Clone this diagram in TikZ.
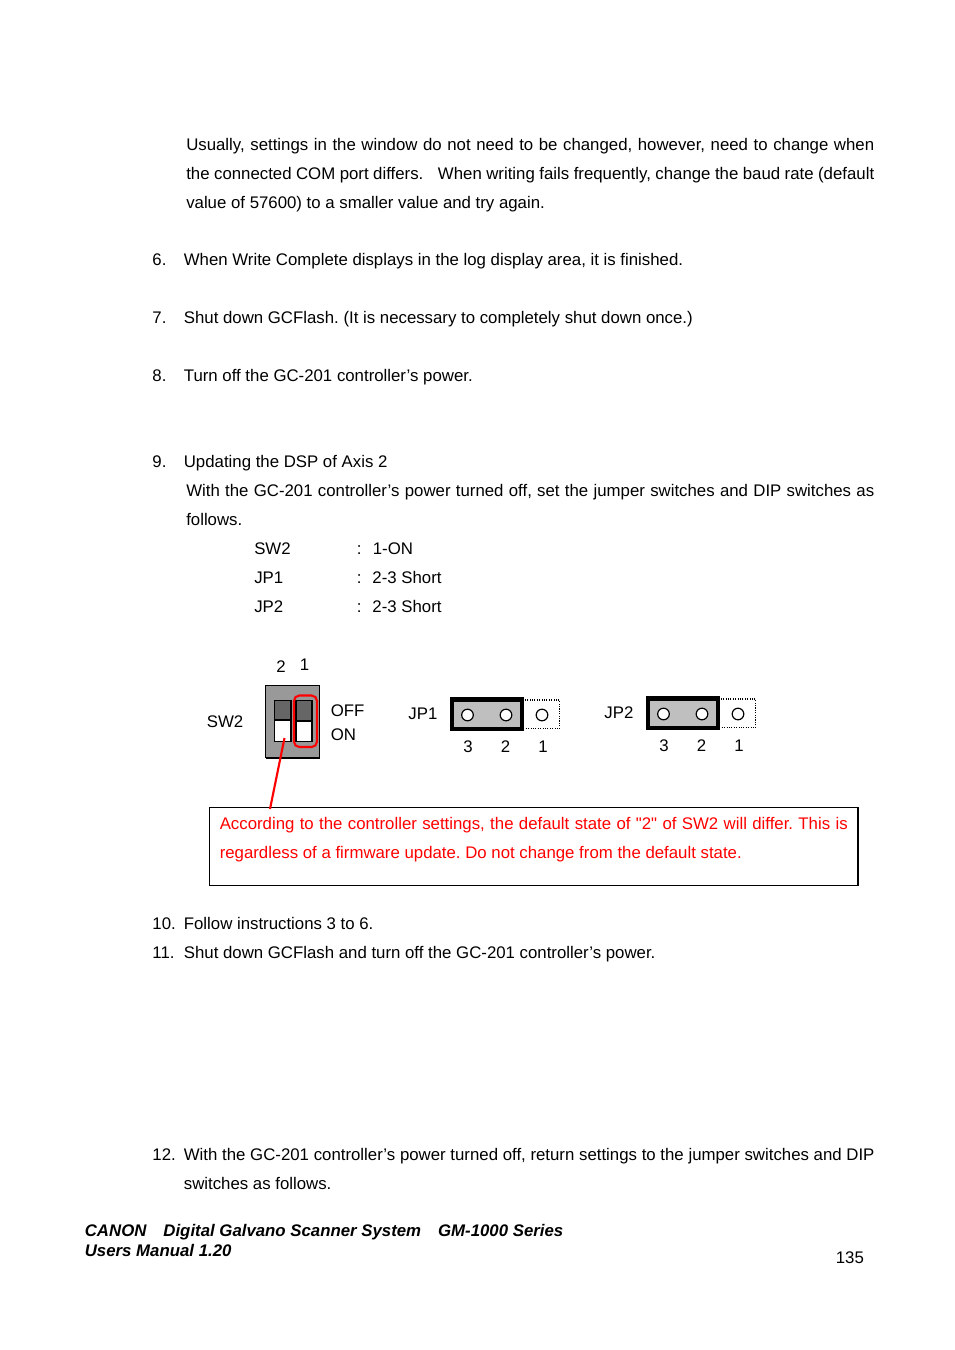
\documentclass[tikz,border=0pt]{standalone}
\usepackage{fontspec}
\setmainfont[Ligatures=TeXOff]{Liberation Sans}
\usetikzlibrary{positioning}
\tikzset{
  txt/.style={anchor=base west,inner sep=0pt,font=\fontsize{12.6}{16}\selectfont\frenchspacing},
  foot/.style={txt,font=\fontsize{12.6}{16}\selectfont\bfseries\itshape},
  note/.style={txt,text=red},
  pin/.style={draw=black,fill=white,line width=.9pt},
  shortbar/.style={draw=black,fill=black!25,line width=3.2pt},
  openpin/.style={draw=black,densely dotted,line width=.8pt},
  lever/.style={draw=black,fill=white,line width=.8pt},
  leverdark/.style={draw=black,fill=black!60,line width=.8pt}
}
\newcommand{\jline}[2]{\makebox[#1][s]{#2}}
\begin{document}
\begin{tikzpicture}[x=.75pt,y=-.75pt]
\useasboundingbox (0,0) rectangle (954,1350);
% body text
\node[txt] (u1) at (186,150) {\jline{516pt}{Usually, settings in the window do not need to be changed, however, need to change when}};
\node[txt] (u2) at (186,179) {\jline{516pt}{the connected COM port differs.\hspace{11pt}When writing fails frequently, change the baud rate (default}};
\node[txt] (u3) at (186,208) {value of 57600) to a smaller value and try again.};
\node[txt] (n6) at (152.2,265) {6.};
\node[txt] (s6) at (183.6,265) {When Write Complete displays in the log display area, it is finished.};
\node[txt] (n7) at (152.2,323) {7.};
\node[txt] (s7) at (183.6,323) {Shut down GCFlash. (It is necessary to completely shut down once.)};
\node[txt] (n8) at (152.2,381) {8.};
\node[txt] (s8) at (183.6,381) {Turn off the GC-201 controller’s power.};
\node[txt] (n9) at (152.2,467) {9.};
\node[txt] (s9) at (183.6,467) {Updating the DSP of Axis 2};
\node[txt] (w1) at (186,496) {\jline{516pt}{With the GC-201 controller’s power turned off, set the jumper switches and DIP switches as}};
\node[txt] (w2) at (186,525) {follows.};
\node[txt] (sw) at (254,554) {SW2};
\node[txt] (swc) at (356.6,554) {:};
\node[txt] (swv) at (372.6,554) {1-ON};
\node[txt] (ja) at (254,583) {JP1};
\node[txt] (jac) at (356.6,583) {:};
\node[txt] (jav) at (372.2,583) {2-3 Short};
\node[txt] (jb) at (254,612) {JP2};
\node[txt] (jbc) at (356.6,612) {:};
\node[txt] (jbv) at (372.2,612) {2-3 Short};
% SW2
\node[txt] (sw2lab) at (206.6,727) {SW2};
\node[txt] (two) at (276.2,672) {2};
\node[txt] (one) at (299.5,670) {1};
\node[txt] (off) at (330.6,716) {OFF};
\node[txt] (on) at (330.6,740) {ON};
\fill[black!40] (265.5,685) rectangle (319.5,758);
\draw[line width=.7pt] (265.5,685) -- (319.5,685);
\draw[line width=.7pt] (265.5,685) -- (265.5,758);
\draw[line width=.7pt] (319.5,685) -- (319.5,758);
\draw[line width=1.5pt] (265.5,758) -- (319.5,758);
\draw[lever] (274.5,720) rectangle (291,741.5);
\draw[leverdark] (274.5,700.5) rectangle (291,720);
\draw[lever] (296,721) rectangle (312,741.5);
\draw[leverdark] (296,700.5) rectangle (312,721);
\draw[red,line width=1.6pt,rounded corners=4pt] (294,695.5) rectangle (317,747);
% JP1
\node[txt] (jp1lab) at (408.2,719) {JP1};
\draw[openpin] (451,700) rectangle (559.5,728.5);
\draw[shortbar] (452,699.5) rectangle (522,729);
\draw[pin] (467.5,715) circle (5.8);
\draw[pin] (506,715) circle (5.8);
\draw[pin] (542,715) circle (5.8);
\node[txt] (p13) at (463.2,752) {3};
\node[txt] (p12) at (500.7,752) {2};
\node[txt] (p11) at (538,752) {1};
% JP2
\node[txt] (jp2lab) at (604.2,718) {JP2};
\draw[openpin] (647,699) rectangle (755.5,727.5);
\draw[shortbar] (648,698.5) rectangle (718,728);
\draw[pin] (663.5,714) circle (5.8);
\draw[pin] (702,714) circle (5.8);
\draw[pin] (738,714) circle (5.8);
\node[txt] (p23) at (659.2,751) {3};
\node[txt] (p22) at (696.7,751) {2};
\node[txt] (p21) at (734,751) {1};
% red note
\node[draw=black,line width=.9pt,minimum width=486.4pt,minimum height=58.5pt,inner sep=0pt,anchor=north west] (notebox) at (208.8,806.6) {};
\coordinate (lever2) at (284.5,738);
\coordinate (boxtop) at (270,809);
\draw[red,line width=1.6pt] (lever2) -- (boxtop);
\node[note] (r1) at (219.5,829) {\jline{471pt}{According to the controller settings, the default state of "2" of SW2 will differ. This is}};
\node[note] (r2) at (219.5,858) {regardless of a firmware update. Do not change from the default state.};
% remaining steps
\node[txt] (n10) at (152.2,929) {10.};
\node[txt] (s10) at (183.6,929) {Follow instructions 3 to 6.};
\node[txt] (n11) at (152.2,958) {11.};
\node[txt] (s11) at (183.6,958) {Shut down GCFlash and turn off the GC-201 controller’s power.};
\node[txt] (n12) at (152.2,1160) {12.};
\node[txt] (s12) at (183.6,1160) {\jline{518pt}{With the GC-201 controller’s power turned off, return settings to the jumper switches and DIP}};
\node[txt] (s12b) at (183.6,1189) {switches as follows.};
% footer
\node[foot] (f1) at (84.6,1236) {CANON\hspace{12.75pt}Digital Galvano Scanner System\hspace{12.75pt}GM-1000 Series};
\node[foot] (f2) at (84.6,1256) {Users Manual 1.20};
\node[txt] (page) at (835.6,1263) {135};
\end{tikzpicture}
\end{document}
